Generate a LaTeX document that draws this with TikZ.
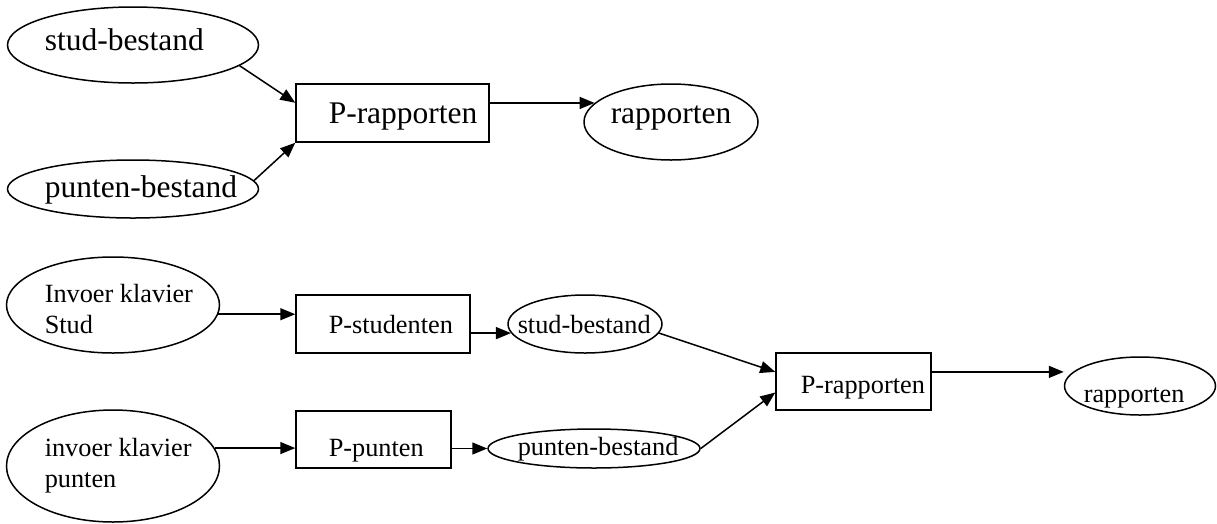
\documentclass[tikz,border=0pt]{standalone}
\usepackage{fontspec}
\setmainfont{Liberation Serif}
\usetikzlibrary{arrows.meta,shapes.geometric}
\begin{document}
\begin{tikzpicture}[x=1pt,y=-1pt,
  line width=1.5pt,
  oval/.style={draw, ellipse, inner sep=0pt},
  procbox/.style={draw, rectangle, inner sep=0pt},
  flow/.style={-{Triangle[length=15pt,width=12pt]}},
  big/.style={font=\fontsize{31.5}{36}\selectfont},
  small/.style={font=\fontsize{26.3}{31}\selectfont},
  lbl/.style={anchor=base west, inner sep=0pt}]
\useasboundingbox (0,0) rectangle (1217,523);

% --- overview: both files feed the report program ---
\node[oval, minimum width=251pt, minimum height=76pt] (sb1) at (133,45) {};
\node[lbl, big] (sb1t) at (44,50) {stud-bestand};
\node[oval, minimum width=251pt, minimum height=58pt] (pb1) at (133,189) {};
\node[lbl, big] (pb1t) at (44,197) {punten-bestand};
\node[procbox, minimum width=193pt, minimum height=58pt] (pr1) at (392.5,113) {};
\node[lbl, big] (pr1t) at (328,123) {P-rapporten};
\node[oval, minimum width=174pt, minimum height=76pt] (rap1) at (671,122) {};
\node[lbl, big] (rap1t) at (610,123) {rapporten};

\draw[flow] (sb1.349) -- (pr1.174);
\draw[flow] (pb1.4) -- (pr1.south west);
\draw[flow] (pr1.east |- rap1.166) -- (rap1.166);

% --- detailed flow: keyboard input to reports ---
\node[oval, minimum width=213pt, minimum height=96pt] (ik1) at (113,305) {};
\node[lbl, small] (ik1t) at (44,302) {\vtop{\baselineskip=31pt\hbox{Invoer klavier}\hbox{Stud}}};
\node[procbox, minimum width=174pt, minimum height=58pt] (ps) at (383,324) {};
\node[lbl, small] (pst) at (328,333) {P-studenten};
\node[oval, minimum width=154pt, minimum height=58pt] (sb2) at (585,324) {};
\node[lbl, small] (sb2t) at (517,333) {stud-bestand};

\node[oval, minimum width=213pt, minimum height=112pt] (ik2) at (113,466) {};
\node[lbl, small] (ik2t) at (44,456) {\vtop{\baselineskip=31pt\hbox{invoer klavier}\hbox{punten}}};
\node[procbox, minimum width=155pt, minimum height=57pt] (pp) at (373.5,439.5) {};
\node[lbl, small] (ppt) at (328,456) {P-punten};
\node[oval, minimum width=212pt, minimum height=39pt] (pb2) at (594,448.5) {};
\node[lbl, small] (pb2t) at (517,455) {punten-bestand};

\node[procbox, minimum width=155pt, minimum height=57pt] (pr2) at (853.5,381.5) {};
\node[lbl, small] (pr2t) at (800,393) {P-rapporten};
\node[oval, minimum width=151pt, minimum height=58pt] (rap2) at (1140,386) {};
\node[lbl, small] (rap2t) at (1083,402) {rapporten};

\draw[flow] (ik1.355) -- (ik1.355 -| ps.west);
\draw[flow] (sb2.187 -| ps.east) -- (sb2.187);
\draw[flow] (ik2.10) -- (ik2.10 -| pp.west);
\draw[flow] (pp.east |- pb2.west) -- (pb2.west);
\draw[flow] (sb2.353) -- (pr2.173);
\draw[flow] (pb2.east) -- (pr2.188);
\draw[flow] (pr2.7) -- (pr2.7 -| rap2.west);
\end{tikzpicture}
\end{document}
